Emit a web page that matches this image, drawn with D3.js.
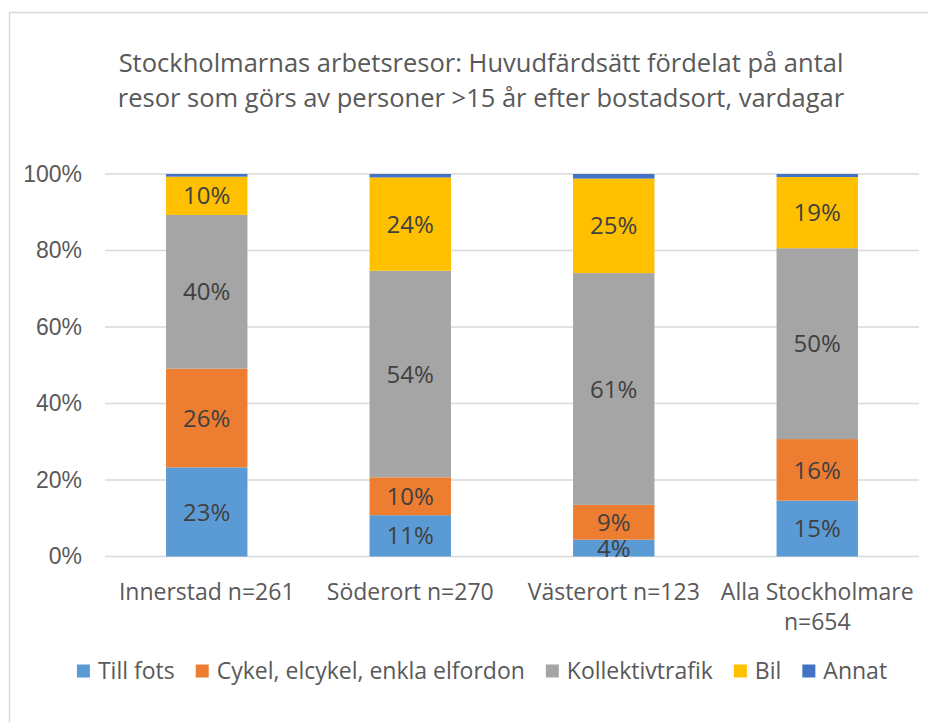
<!DOCTYPE html>
<html>
<head>
<meta charset="utf-8">
<script src="https://cdn.jsdelivr.net/npm/d3@7"></script>
<style>
  body { margin: 0; background: #fff; }
  svg { display: block; font-family: "Open Sans", "Noto Sans", sans-serif; }
</style>
</head>
<body>
<svg id="chart" width="928" height="722"></svg>
<script>
// data
const categories = ["Innerstad n=261", "Söderort n=270", "Västerort n=123", "Alla Stockholmare n=654"];
const categoryLines = [["Innerstad n=261"], ["Söderort n=270"], ["Västerort n=123"], ["Alla Stockholmare", "n=654"]];
const seriesNames = ["Till fots", "Cykel, elcykel, enkla elfordon", "Kollektivtrafik", "Bil", "Annat"];
const seriesColors = ["#5B9BD5", "#ED7D31", "#A5A5A5", "#FFC000", "#4472C4"];
// percent per category, in series order
const tillFots = [23.3, 10.8, 4.4, 14.6];
const cykel = [25.8, 9.9, 9.1, 16.1];
const kollektiv = [40.2, 54.0, 60.6, 49.9];
const bil = [10.0, 24.4, 24.7, 18.6];
const annat = [0.7, 0.9, 1.2, 0.8];
const yTicks = [0, 0.2, 0.4, 0.6, 0.8, 1.0];
const titleLines = ["Stockholmarnas arbetsresor: Huvudfärdsätt fördelat på antal",
                    "resor som görs av personer >15 år efter bostadsort, vardagar"];

const seriesValues = [tillFots, cykel, kollektiv, bil, annat];
const rows = categories.map((c, i) => {
  const r = {cat: c};
  seriesNames.forEach((s, j) => r[s] = seriesValues[j][i] / 100);
  return r;
});

const svg = d3.select("#chart");
const fontSize = 23;

// frame
svg.append("rect")
  .attr("x", 9.5).attr("y", 12.5)
  .attr("width", 960).attr("height", 760)
  .attr("fill", "#fff")
  .attr("stroke", "#D9D9D9")
  .attr("stroke-width", 1.5);

// title
svg.append("text")
  .attr("x", 481).attr("y", 72)
  .attr("text-anchor", "middle")
  .attr("fill", "#595959")
  .style("font-size", "25.5px")
  .selectAll("tspan")
  .data(titleLines)
  .join("tspan")
    .attr("x", 481)
    .attr("dy", (d, i) => i ? 35 : 0)
    .text(d => d);

const x = d3.scaleBand()
  .domain(categories)
  .range([105, 919])
  .paddingInner(0.6)
  .paddingOuter(0.3);

const y = d3.scaleLinear()
  .domain([0, 1])
  .range([556.5, 174]);

// gridlines
svg.append("g")
  .selectAll("line")
  .data(yTicks)
  .join("line")
    .attr("x1", 105).attr("x2", 919)
    .attr("y1", d => y(d)).attr("y2", d => y(d))
    .attr("stroke", "#D9D9D9")
    .attr("stroke-width", 1.5);

// y axis labels
const yAxis = svg.append("g")
  .attr("transform", "translate(82,0)")
  .call(d3.axisLeft(y).tickValues(yTicks).tickFormat(d3.format(".0%")).tickSize(0).tickPadding(0));
yAxis.select(".domain").remove();
yAxis.selectAll("text")
  .attr("fill", "#595959")
  .style("font-size", fontSize + "px")
  .style("font-family", "inherit");

// stacked bars
const stack = d3.stack().keys(seriesNames);
const layers = stack(rows);

const groups = svg.append("g")
  .selectAll("g")
  .data(layers)
  .join("g")
    .attr("fill", (d, i) => seriesColors[i]);

groups.selectAll("rect")
  .data(d => d)
  .join("rect")
    .attr("x", d => x(d.data.cat))
    .attr("width", x.bandwidth())
    .attr("y", d => y(d[1]))
    .attr("height", d => y(d[0]) - y(d[1]));

// data labels (not for Annat)
svg.append("g")
  .selectAll("g")
  .data(layers.slice(0, 4))
  .join("g")
  .selectAll("text")
  .data(d => d)
  .join("text")
    .attr("x", d => x(d.data.cat) + x.bandwidth() / 2)
    .attr("y", d => (y(d[0]) + y(d[1])) / 2)
    .attr("dy", "0.36em")
    .attr("text-anchor", "middle")
    .attr("fill", "#404040")
    .style("font-size", "24px")
    .text(d => Math.round((d[1] - d[0]) * 100) + "%");

// category labels
svg.append("g")
  .selectAll("text")
  .data(categories)
  .join("text")
    .attr("x", d => x(d) + x.bandwidth() / 2)
    .attr("y", 600)
    .attr("text-anchor", "middle")
    .attr("fill", "#595959")
    .style("font-size", fontSize + "px")
  .selectAll("tspan")
  .data((d, i) => categoryLines[i])
  .join("tspan")
    .attr("x", function() { return this.parentNode.getAttribute("x"); })
    .attr("dy", (d, i) => i ? 30 : 0)
    .text(d => d);

// legend
const legend = svg.append("g").attr("transform", "translate(0,671)");
const items = legend.selectAll("g")
  .data(seriesNames)
  .join("g");
items.append("rect")
  .attr("width", 13).attr("height", 13)
  .attr("y", -6.5)
  .attr("fill", (d, i) => seriesColors[i]);
items.append("text")
  .attr("x", 21)
  .attr("dy", "0.36em")
  .attr("fill", "#595959")
  .style("font-size", fontSize + "px")
  .text(d => d);

let pos = 0;
const gap = 21;
items.each(function() {
  const w = 21 + this.querySelector("text").getComputedTextLength();
  d3.select(this).attr("transform", `translate(${pos},0)`);
  pos += w + gap;
});
const totalW = pos - gap;
legend.attr("transform", `translate(${482 - totalW / 2},671)`);
</script>
</body>
</html>
